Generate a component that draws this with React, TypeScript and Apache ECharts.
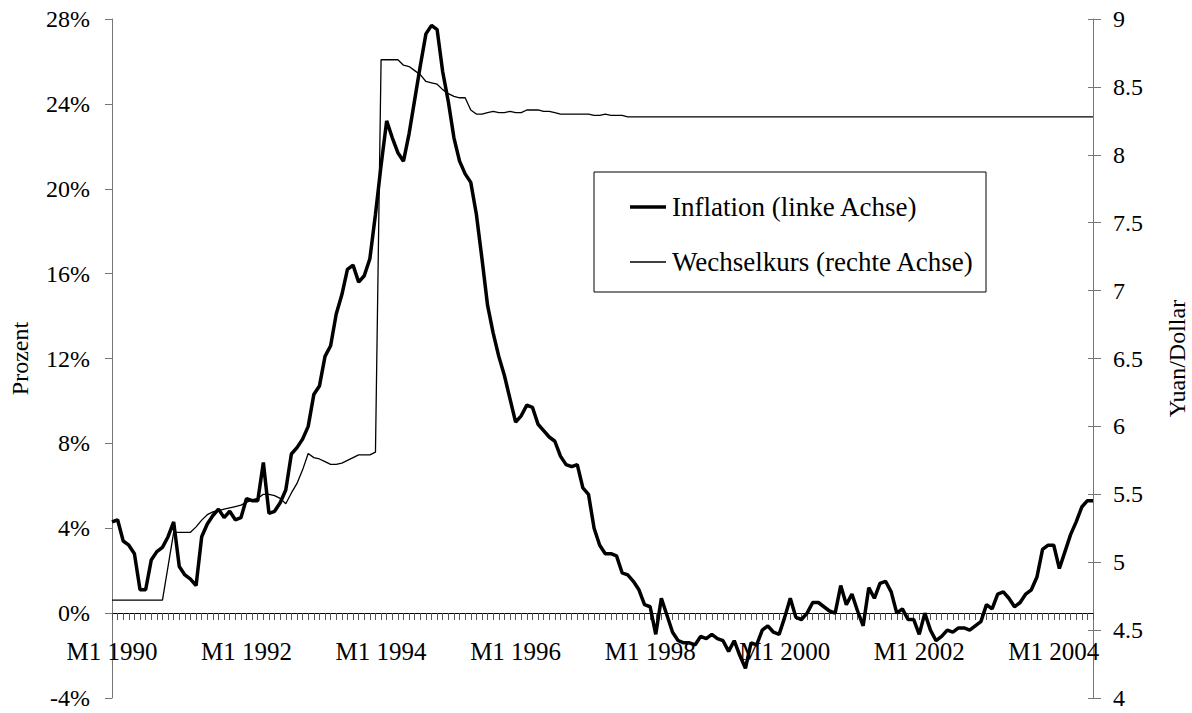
import React, { useEffect, useRef } from "react";
import * as echarts from "echarts";

// Monthly categories: M1 1990 ... M8 2004
const startYear = 1990;
const monthCount = 176;
const categories: string[] = [];
for (let k = 0; k < monthCount; k++) {
  categories.push(`M${(k % 12) + 1} ${startYear + Math.floor(k / 12)}`);
}

// Inflation (percent, left axis)
const inflation = [
  4.3, 4.4, 3.4, 3.2, 2.8, 1.1, 1.1, 2.5, 2.9, 3.1, 3.6, 4.3, // 1990
  2.2, 1.8, 1.6, 1.3, 3.6, 4.2, 4.6, 4.9, 4.5, 4.8, 4.4, 4.5, // 1991
  5.4, 5.3, 5.3, 7.1, 4.7, 4.8, 5.2, 5.8, 7.5, 7.8, 8.2, 8.8, // 1992
  10.3, 10.7, 12.1, 12.6, 14.1, 15.0, 16.2, 16.4, 15.6, 15.9, 16.7, 18.8, // 1993
  21.1, 23.2, 22.4, 21.7, 21.3, 22.6, 24.2, 25.8, 27.3, 27.7, 27.5, 25.5, // 1994
  24.1, 22.4, 21.3, 20.7, 20.3, 18.8, 16.7, 14.5, 13.2, 12.1, 11.2, 10.1, // 1995
  9.0, 9.3, 9.8, 9.7, 8.9, 8.6, 8.3, 8.1, 7.4, 7.0, 6.9, 7.0, // 1996
  5.9, 5.6, 4.0, 3.2, 2.8, 2.8, 2.7, 1.9, 1.8, 1.5, 1.1, 0.4, // 1997
  0.3, -1.0, 0.7, -0.1, -0.9, -1.3, -1.4, -1.4, -1.5, -1.1, -1.2, -1.0, // 1998
  -1.2, -1.3, -1.8, -1.3, -2.0, -2.6, -1.4, -1.5, -0.8, -0.6, -0.9, -1.0, // 1999
  -0.2, 0.7, -0.2, -0.3, 0.0, 0.5, 0.5, 0.3, 0.1, 0.0, 1.3, 0.4, // 2000
  0.9, 0.1, -0.6, 1.2, 0.7, 1.4, 1.5, 1.0, 0.0, 0.2, -0.3, -0.3, // 2001
  -1.0, 0.0, -0.8, -1.3, -1.1, -0.8, -0.9, -0.7, -0.7, -0.8, -0.6, -0.4, // 2002
  0.4, 0.2, 0.9, 1.0, 0.7, 0.3, 0.5, 0.9, 1.1, 1.7, 3.0, 3.2, // 2003
  3.2, 2.1, 2.9, 3.7, 4.3, 5.0, 5.3, 5.3, // 2004
];

// Exchange rate (Yuan per Dollar, right axis)
const exchangeRate = [
  4.72, 4.72, 4.72, 4.72, 4.72, 4.72, 4.72, 4.72, 4.72, 4.72, 4.97, 5.22, // 1990
  5.22, 5.22, 5.22, 5.26, 5.31, 5.35, 5.37, 5.38, 5.39, 5.40, 5.41, 5.42, // 1991
  5.44, 5.46, 5.47, 5.50, 5.50, 5.49, 5.47, 5.43, 5.51, 5.58, 5.68, 5.80, // 1992
  5.77, 5.76, 5.74, 5.72, 5.72, 5.73, 5.75, 5.77, 5.79, 5.79, 5.79, 5.81, // 1993
  8.70, 8.70, 8.70, 8.70, 8.66, 8.65, 8.62, 8.59, 8.54, 8.53, 8.52, 8.48, // 1994
  8.45, 8.43, 8.42, 8.42, 8.33, 8.30, 8.30, 8.31, 8.32, 8.31, 8.31, 8.32, // 1995
  8.31, 8.31, 8.33, 8.33, 8.33, 8.32, 8.32, 8.31, 8.30, 8.30, 8.30, 8.30, // 1996
  8.30, 8.30, 8.29, 8.29, 8.30, 8.29, 8.29, 8.29, 8.28, 8.28, 8.28, 8.28, // 1997
  8.28, 8.28, 8.28, 8.28, 8.28, 8.28, 8.28, 8.28, 8.28, 8.28, 8.28, 8.28, // 1998
  8.28, 8.28, 8.28, 8.28, 8.28, 8.28, 8.28, 8.28, 8.28, 8.28, 8.28, 8.28, // 1999
  8.28, 8.28, 8.28, 8.28, 8.28, 8.28, 8.28, 8.28, 8.28, 8.28, 8.28, 8.28, // 2000
  8.28, 8.28, 8.28, 8.28, 8.28, 8.28, 8.28, 8.28, 8.28, 8.28, 8.28, 8.28, // 2001
  8.28, 8.28, 8.28, 8.28, 8.28, 8.28, 8.28, 8.28, 8.28, 8.28, 8.28, 8.28, // 2002
  8.28, 8.28, 8.28, 8.28, 8.28, 8.28, 8.28, 8.28, 8.28, 8.28, 8.28, 8.28, // 2003
  8.28, 8.28, 8.28, 8.28, 8.28, 8.28, 8.28, 8.28, // 2004
];

const seriesNames = ["Inflation (linke Achse)", "Wechselkurs (rechte Achse)"];
const leftAxisName = "Prozent";
const rightAxisName = "Yuan/Dollar";

const FONT = '"Liberation Serif", "Times New Roman", serif';
const FS = 24;

export default function App() {
  const ref = useRef<HTMLDivElement>(null);

  useEffect(() => {
    if (!ref.current) return;
    const chart = echarts.init(ref.current, undefined, { renderer: "svg" });
    const txt = { fontFamily: FONT, fontSize: FS, color: "#000" };
    const legendFont = { fontFamily: FONT, fontSize: 27, fill: "#000" };
    chart.setOption({
      animation: false,
      backgroundColor: "#fff",
      grid: {
        left: 112,
        right: 99,
        top: 19,
        bottom: 15,
        containLabel: false,
        outerBoundsMode: "none",
      },
      graphic: [
        {
          type: "rect",
          shape: { x: 594, y: 172, width: 392, height: 120 },
          style: { fill: "#fff", stroke: "#000", lineWidth: 1 },
          silent: true,
          z: 10,
        },
        {
          type: "line",
          shape: { x1: 630, y1: 207, x2: 666, y2: 207 },
          style: { stroke: "#000", lineWidth: 3.5 },
          silent: true,
          z: 11,
        },
        {
          type: "text",
          x: 672,
          y: 207,
          style: { ...legendFont, text: seriesNames[0], verticalAlign: "middle", align: "left" },
          silent: true,
          z: 11,
        },
        {
          type: "line",
          shape: { x1: 630, y1: 262, x2: 666, y2: 262 },
          style: { stroke: "#000", lineWidth: 1.3 },
          silent: true,
          z: 11,
        },
        {
          type: "text",
          x: 672,
          y: 262,
          style: { ...legendFont, text: seriesNames[1], verticalAlign: "middle", align: "left" },
          silent: true,
          z: 11,
        },
      ],
      xAxis: {
        type: "category",
        data: categories,
        boundaryGap: false,
        position: "bottom",
        offset: -85,
        axisLine: {
          show: true,
          onZero: false,
          lineStyle: { color: "#000", width: 1 },
        },
        axisTick: {
          show: true,
          interval: 0,
          length: 7,
          inside: false,
          lineStyle: { color: "#555", width: 1 },
        },
        axisLabel: {
          ...txt,
          fontSize: 25,
          interval: (i: number) => i % 24 === 0,
          margin: 26,
          hideOverlap: false,
        },
        splitLine: { show: false },
      },
      yAxis: [
        {
          type: "value",
          position: "left",
          min: -4,
          max: 28,
          interval: 4,
          name: leftAxisName,
          nameLocation: "middle",
          nameGap: 80,
          nameRotate: 90,
          nameTextStyle: txt,
          axisLine: { show: true, onZero: false, lineStyle: { color: "#777", width: 1 } },
          axisTick: { show: true, length: 7, lineStyle: { color: "#777" } },
          axisLabel: { ...txt, margin: 22, formatter: "{value}%" },
          splitLine: { show: false },
        },
        {
          type: "value",
          position: "right",
          min: 4,
          max: 9,
          interval: 0.5,
          name: rightAxisName,
          nameLocation: "middle",
          nameGap: 72,
          nameRotate: 90,
          nameTextStyle: txt,
          axisLine: { show: true, onZero: false, lineStyle: { color: "#777", width: 1 } },
          axisTick: { show: true, length: 8, lineStyle: { color: "#777" } },
          axisLabel: { ...txt, margin: 20 },
          splitLine: { show: false },
        },
        {
          type: "value",
          position: "right",
          min: 4,
          max: 9,
          interval: 0.5,
          axisLine: { show: false, onZero: false },
          axisTick: { show: true, inside: true, length: 5, lineStyle: { color: "#777" } },
          axisLabel: { show: false },
          splitLine: { show: false },
        },
      ],
      series: [
        {
          name: seriesNames[0],
          type: "line",
          yAxisIndex: 0,
          data: inflation,
          symbol: "none",
          lineStyle: { color: "#000", width: 3.5 },
          itemStyle: { color: "#000" },
        },
        {
          name: seriesNames[1],
          type: "line",
          yAxisIndex: 1,
          data: exchangeRate,
          symbol: "none",
          lineStyle: { color: "#000", width: 1.3 },
          itemStyle: { color: "#000" },
        },
      ],
    });
    return () => chart.dispose();
  }, []);

  return (
    <div
      ref={ref}
      style={{ position: "fixed", left: 0, top: 0, width: 1192, height: 713, background: "#fff" }}
    />
  );
}
